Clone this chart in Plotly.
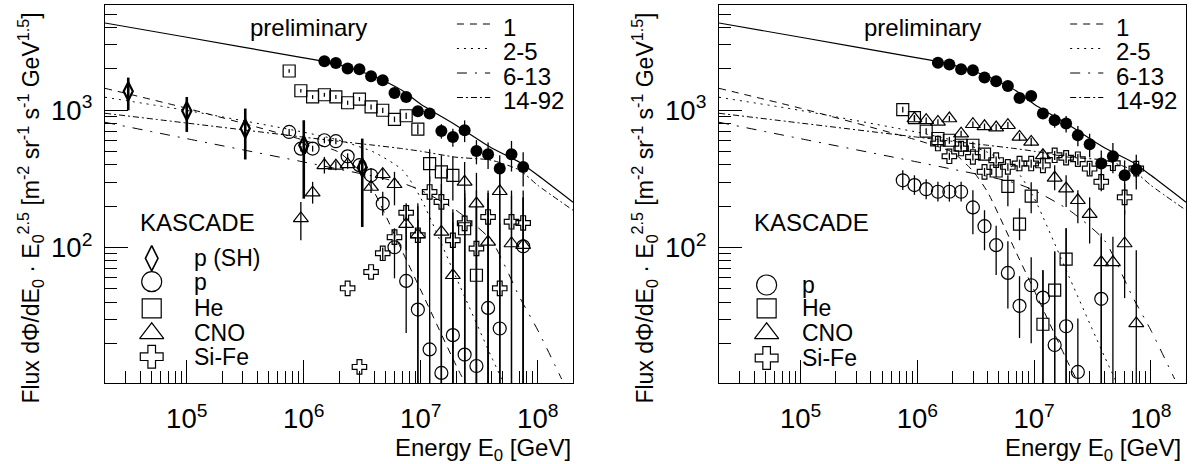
import plotly.graph_objects as go

FONT = "Liberation Sans, Arial, Helvetica, sans-serif"

# ---------------- model curves (same in both panels) ----------------
curve_E = [2e4, 1e5, 1e6, 2e6, 4e6, 7e6, 1e7, 2e7, 4e7, 7e7, 1e8, 2e8]
sum_F = [4325, 3404, 2409, 2143, 1769, 1387, 1106, 778, 533, 418, 336, 214]
z1_E = [2e4, 1e5, 1e6, 2e6, 3e6, 4e6, 7e6, 1e7, 2e7, 2.6e7]
z1_F = [1445, 1034, 605, 494, 360, 253, 92.5, 48.9, 13.9, 9]
z2_E = [2e4, 1e5, 1e6, 2e6, 4e6, 7e6, 1e7, 2e7, 4e7, 5.2e7]
z2_F = [1244, 997, 692, 605, 494, 366, 229, 60.8, 16.1, 10]
z6_E = [2e4, 1e5, 1e6, 2e6, 4e6, 7e6, 1e7, 2e7, 4e7, 7e7, 1e8, 1.6e8]
z6_F = [818, 621, 420, 372, 330, 294, 261, 187, 113, 43.4, 25, 11]
z14_E = [2e4, 1e5, 1e6, 2e6, 4e6, 7e6, 1e7, 2e7, 4e7, 7e7, 1e8, 2e8]
z14_F = [951, 807, 637, 594, 556, 525, 503, 455, 433, 366, 284, 187]

# ---------------- left panel data ----------------
L_all_E = [1.50e6, 1.88e6, 2.37e6, 2.99e6, 3.76e6, 4.73e6, 5.96e6, 7.50e6, 9.44e6,
           1.19e7, 1.50e7, 1.88e7, 2.37e7, 2.99e7, 3.76e7, 4.73e7, 5.96e7, 7.50e7]
L_all_F = [2275, 2210, 2013, 1990, 1769, 1655, 1337, 1250, 984, 946, 707, 639, 715, 505, 478, 376, 478, 386]
L_all_err = [45, 44, 40, 40, 35, 33, 27, 50, 59, 76, 85, 96, 129, 101, 105, 94, 120, 108]

L_sh_E = [3.16e4, 1e5, 3.16e5, 1e6, 3.16e6]
L_sh_F = [1375, 988, 736, 556, 383]
L_sh_hi = [1730, 1250, 1029, 846, 622]
L_sh_lo = [1000, 695, 438, 227, 141]

L_p_E = [7.50e5, 9.44e5, 1.19e6, 1.50e6, 1.88e6, 2.37e6, 2.99e6, 3.76e6, 4.73e6, 5.96e6,
         7.50e6, 9.44e6, 1.19e7, 1.50e7, 1.88e7, 2.37e7, 2.99e7, 3.76e7, 4.73e7, 7.50e7]
L_p_F = [695, 525, 526, 605, 595, 462, 398, 336, 209, 100.5, 57.1, 35.3, 18.1, 12.2, 23.0, 16.6, 13.7, 36.3, 25.7, 102]
L_p_hi = [730, 550, 552, 635, 625, 485, 430, 380, 255, 138, 150, 210, 33.8, 261, 153, 261, 261, 229, 261, 232]
L_p_lo = [660, 500, 500, 575, 565, 440, 366, 295, 171, 59.7, 23.8, 5, 5, 5, 5, 5, 5, 5, 5, 5]

L_he_E = [7.50e5, 9.44e5, 1.19e6, 1.50e6, 1.88e6, 2.37e6, 2.99e6, 3.76e6, 4.73e6, 5.96e6,
          7.50e6, 9.44e6, 1.19e7, 1.50e7, 1.88e7, 2.37e7, 2.99e7]
L_he_F = [1932, 1387, 1250, 1297, 1250, 1135, 1207, 1057, 1000, 859, 912, 729, 409, 356, 336, 137, 62.8]
L_he_hi = [1990, 1430, 1290, 1340, 1290, 1175, 1250, 1100, 1045, 900, 960, 790, 520, 470, 460, 250, 200]
L_he_lo = [1875, 1345, 1210, 1255, 1210, 1095, 1165, 1015, 955, 820, 865, 670, 300, 240, 220, 5, 5]

L_cno_E = [9.44e5, 1.19e6, 1.50e6, 1.88e6, 2.37e6, 3.76e6, 4.73e6, 5.96e6, 7.50e6, 9.44e6,
           1.50e7, 1.88e7, 2.37e7, 2.99e7, 3.76e7, 4.73e7, 5.96e7, 7.50e7]
L_cno_F = [163, 251, 397, 394, 404, 276, 342, 289, 148, 124, 130, 62.8, 301, 209, 110, 257, 107, 104]
L_cno_hi = [215, 301, 457, 425, 435, 305, 375, 356, 210, 200, 230, 180, 420, 350, 250, 420, 260, 260]
L_cno_lo = [113, 209, 346, 365, 375, 250, 310, 203, 95.6, 60, 5, 5, 5, 5, 5, 5, 5, 5]

L_fe_E = [2.37e6, 2.99e6, 3.76e6, 4.73e6, 5.96e6, 7.50e6, 9.44e6, 1.19e7, 1.50e7, 1.88e7,
          2.37e7, 2.99e7, 3.76e7, 4.73e7, 5.96e7, 7.50e7]
L_fe_F = [50.4, 13.5, 66.4, 90.8, 119, 179, 123, 254, 215, 113, 150, 98.4, 167, 50.4, 154, 151]
L_fe_hi = [50.4, 13.5, 66.4, 100, 135, 200, 160, 330, 290, 190, 230, 200, 260, 150, 240, 230]
L_fe_lo = [50.4, 13.5, 66.4, 80, 100, 155, 5, 5, 5, 5, 5, 5, 5, 5, 5, 5]

# ---------------- right panel data ----------------
R_all_E = L_all_E
R_all_F = [2223, 2153, 1990, 1955, 1730, 1627, 1503, 1229, 1271, 946, 846, 800, 658, 565, 409, 462, 336, 370]
R_all_err = [44, 43, 40, 39, 35, 33, 30, 49, 76, 76, 100, 110, 110, 110, 100, 115, 95, 105]

R_p_E = [7.50e5, 9.44e5, 1.19e6, 1.50e6, 1.88e6, 2.37e6, 2.99e6, 3.76e6, 4.73e6, 5.96e6,
         7.50e6, 9.44e6, 1.19e7, 1.50e7, 1.88e7, 2.37e7, 3.76e7]
R_p_F = [309, 285, 266, 255, 255, 255, 196, 143, 104, 65.3, 37.6, 53.1, 43.2, 19.5, 26.7, 12.4, 42.3]
R_p_hi = [365, 336, 314, 301, 301, 301, 261, 187, 144, 111, 61.8, 85, 68.3, 93.5, 138, 30.4, 127]
R_p_lo = [262, 242, 225, 216, 216, 216, 125, 95.6, 63, 36, 21.9, 20.1, 5, 5, 5, 5, 5]

R_he_E = [7.50e5, 9.44e5, 1.19e6, 1.50e6, 1.88e6, 2.37e6, 2.99e6, 3.76e6, 4.73e6, 5.96e6,
          7.50e6, 9.44e6, 1.19e7, 1.50e7, 1.88e7]
R_he_F = [1012, 885, 706, 623, 605, 556, 556, 479, 361, 279, 148, 237, 27.6, 48.9, 82.2]
R_he_hi = [1060, 925, 740, 655, 640, 590, 590, 520, 400, 336, 193, 299, 68.3, 93.5, 138]
R_he_lo = [965, 845, 672, 590, 570, 525, 525, 440, 325, 200, 113, 178, 5, 5, 5]

R_cno_E = [9.44e5, 1.19e6, 1.50e6, 1.88e6, 2.37e6, 2.99e6, 3.76e6, 4.73e6, 5.96e6, 7.50e6,
           9.44e6, 1.19e7, 1.50e7, 1.88e7, 2.37e7, 2.99e7, 3.76e7, 4.73e7, 5.96e7, 7.50e7]
R_cno_F = [871, 846, 822, 871, 676, 791, 764, 748, 778, 640, 588, 470, 322, 269, 221, 175, 78, 78, 107, 28.0]
R_cno_hi = [910, 885, 860, 910, 710, 830, 800, 790, 820, 680, 630, 520, 398, 336, 261, 232, 120, 120, 187, 95.6]
R_cno_lo = [832, 808, 785, 832, 645, 755, 730, 710, 740, 600, 550, 425, 261, 197, 150, 107, 5, 5, 42.8, 5]

R_fe_E = [1.50e6, 1.88e6, 2.37e6, 2.99e6, 3.76e6, 4.73e6, 5.96e6, 7.50e6, 9.44e6,
          1.19e7, 1.50e7, 1.88e7, 2.37e7, 2.99e7, 3.76e7, 4.73e7, 5.96e7, 7.50e7]
R_fe_F = [572, 462, 526, 457, 356, 433, 387, 409, 409, 397, 470, 451, 440, 376, 301, 411, 232, 376]
R_fe_hi = [600, 490, 555, 485, 380, 460, 412, 437, 437, 425, 505, 490, 480, 415, 345, 460, 290, 430]
R_fe_lo = [545, 435, 497, 430, 332, 407, 362, 381, 381, 370, 435, 412, 400, 337, 257, 362, 174, 322]

# ---------------- labels ----------------
curve_labels = ["1", "2-5", "6-13", "14-92"]
left_legend = ["p (SH)", "p", "He", "CNO", "Si-Fe"]
right_legend = ["p", "He", "CNO", "Si-Fe"]

DASH = {"1": "7px,6px", "2-5": "2px,5px", "6-13": "10px,8px,2px,8px", "14-92": "6px,3px,2px,3px"}

fig = go.Figure()


def add_curves(xa, ya):
    for E, F, lab in [(z1_E, z1_F, "1"), (z2_E, z2_F, "2-5"), (z6_E, z6_F, "6-13"), (z14_E, z14_F, "14-92")]:
        fig.add_trace(go.Scatter(x=E, y=F, mode="lines", xaxis=xa, yaxis=ya,
                                 line=dict(color="black", width=1, dash=DASH[lab], shape="spline", smoothing=0.6),
                                 showlegend=False, hoverinfo="skip"))
    fig.add_trace(go.Scatter(x=curve_E, y=sum_F, mode="lines", xaxis=xa, yaxis=ya,
                             line=dict(color="black", width=1.2, shape="spline", smoothing=0.6),
                             showlegend=False, hoverinfo="skip"))


def add_points(xa, ya, E, F, hi, lo, symbol, size, lw=1.2, ethick=1.3):
    plus = [h - f for h, f in zip(hi, F)]
    minus = [f - l for f, l in zip(F, lo)]
    fig.add_trace(go.Scatter(x=E, y=F, mode="markers", xaxis=xa, yaxis=ya,
                             marker=dict(symbol=symbol, size=size, color="black",
                                         line=dict(color="black", width=lw)),
                             error_y=dict(type="data", symmetric=False, array=plus, arrayminus=minus,
                                          thickness=ethick, width=0, color="black"),
                             showlegend=False))


def add_all(xa, ya, E, F, err):
    fig.add_trace(go.Scatter(x=E, y=F, mode="markers", xaxis=xa, yaxis=ya,
                             marker=dict(symbol="circle", size=12, color="black"),
                             error_y=dict(type="data", array=err, thickness=1.3, width=0, color="black"),
                             showlegend=False))


# left panel
add_curves("x", "y")
add_points("x", "y", L_sh_E, L_sh_F, L_sh_hi, L_sh_lo, "diamond-tall-open", 13, lw=2.2, ethick=2.6)
add_points("x", "y", L_p_E, L_p_F, L_p_hi, L_p_lo, "circle-open", 13)
add_points("x", "y", L_he_E, L_he_F, L_he_hi, L_he_lo, "square-open", 12)
add_points("x", "y", L_cno_E, L_cno_F, L_cno_hi, L_cno_lo, "triangle-up-open", 13)
add_points("x", "y", L_fe_E, L_fe_F, L_fe_hi, L_fe_lo, "cross-open", 12)
add_all("x", "y", L_all_E, L_all_F, L_all_err)

# right panel
add_curves("x2", "y2")
add_points("x2", "y2", R_p_E, R_p_F, R_p_hi, R_p_lo, "circle-open", 13)
add_points("x2", "y2", R_he_E, R_he_F, R_he_hi, R_he_lo, "square-open", 12)
add_points("x2", "y2", R_cno_E, R_cno_F, R_cno_hi, R_cno_lo, "triangle-up-open", 13)
add_points("x2", "y2", R_fe_E, R_fe_F, R_fe_hi, R_fe_lo, "cross-open", 12)
add_all("x2", "y2", R_all_E, R_all_F, R_all_err)

# ---------------- in-panel legends (panel fraction coordinates) ----------------
line_rows = [0.9497, 0.8849, 0.8201, 0.7553]
annotations = []
for xa, ya, dom in [("x3", "y3", "x"), ("x4", "y4", "x2")]:
    ydom = dom.replace("x", "y") + " domain"
    for lab, yr in zip(curve_labels, line_rows):
        fig.add_trace(go.Scatter(x=[0.752, 0.823], y=[yr, yr], mode="lines", xaxis=xa, yaxis=ya,
                                 line=dict(color="black", width=1, dash=DASH[lab]),
                                 showlegend=False, hoverinfo="skip"))
        annotations.append(dict(text=lab, x=0.846, y=yr - 0.008, xref=dom + " domain", yref=ydom,
                                xanchor="left", yanchor="middle", showarrow=False,
                                font=dict(family=FONT, size=24, color="black")))
    annotations.append(dict(text="preliminary", x=0.435, y=0.9417, xref=dom + " domain",
                            yref=ydom, xanchor="center", yanchor="middle",
                            showarrow=False, font=dict(family=FONT, size=24, color="black")))
    annotations.append(dict(text="KASCADE", x=0.0705, y=0.4233, xref=dom + " domain",
                            yref=ydom, xanchor="left", yanchor="middle",
                            showarrow=False, font=dict(family=FONT, size=24, color="black")))

# marker legend glyphs
left_syms = [("diamond-tall-open", 18, 1.6), ("circle-open", 20, 1.2), ("square-open", 19, 1.2),
             ("triangle-up-open", 21, 1.2), ("cross-open", 19, 1.2)]
left_rows = [0.3299, 0.2680, 0.1976, 0.1315, 0.0696]
for (sym, sz, lw), yr, lab in zip(left_syms, left_rows, left_legend):
    fig.add_trace(go.Scatter(x=[0.0998], y=[yr], mode="markers", xaxis="x3", yaxis="y3",
                             marker=dict(symbol=sym, size=sz, color="black", line=dict(color="black", width=lw)),
                             showlegend=False, hoverinfo="skip"))
    annotations.append(dict(text=lab, x=0.1853, y=yr, xref="x domain", yref="y domain",
                            xanchor="left", yanchor="middle", showarrow=False,
                            font=dict(family=FONT, size=23, color="black")))
right_syms = left_syms[1:]
right_rows = [0.2593, 0.1976, 0.1315, 0.0661]
for (sym, sz, lw), yr, lab in zip(right_syms, right_rows, right_legend):
    fig.add_trace(go.Scatter(x=[0.102], y=[yr], mode="markers", xaxis="x4", yaxis="y4",
                             marker=dict(symbol=sym, size=sz, color="black", line=dict(color="black", width=lw)),
                             showlegend=False, hoverinfo="skip"))
    annotations.append(dict(text=lab, x=0.1734, y=yr, xref="x2 domain", yref="y2 domain",
                            xanchor="left", yanchor="middle", showarrow=False,
                            font=dict(family=FONT, size=23, color="black")))

# axis titles
xtitle = "Energy E<sub>0</sub> [GeV]"
ytitle = ("Flux d\u03a6/dE<sub>0</sub> \u00b7 E<sub>0</sub><sup>2.5</sup> "
          "[m<sup>-2</sup> sr<sup>-1</sup> s<sup>-1</sup> GeV<sup>1.5</sup>]")
for xr_, yt_x in [(0.4325, -0.0694), (0.9972, 0.4986)]:
    annotations.append(dict(text=xtitle, x=xr_, y=-0.176, xref="paper", yref="paper",
                            xanchor="right", yanchor="middle", showarrow=False,
                            font=dict(family=FONT, size=24, color="black")))
    annotations.append(dict(text=ytitle, x=yt_x, y=0.464, xref="paper", yref="paper",
                            xanchor="center", yanchor="middle", textangle=-90, showarrow=False,
                            font=dict(family=FONT, size=23, color="black")))

axis_common = dict(type="log", showline=True, linecolor="black", linewidth=1.2, mirror=True,
                   ticks="inside", ticklen=23, tickwidth=1, tickcolor="black", showgrid=False,
                   zeroline=False, exponentformat="power",
                   tickfont=dict(family=FONT, size=22, color="black"),
                   minor=dict(ticks="inside", ticklen=12, tickwidth=1, tickcolor="black",
                              dtick="D1", showgrid=False))
xr = [4.301, 8.301]
yr_ = [1.013, 3.767]
dom_l = [0, 468 / 1081]
dom_r = [614 / 1081, 1]

fig.update_layout(
    width=1194, height=464,
    margin=dict(l=105, r=8, t=5, b=81),
    paper_bgcolor="white", plot_bgcolor="rgba(0,0,0,0)",
    showlegend=False,
    font=dict(family=FONT, size=22, color="black"),
    xaxis=dict(axis_common, domain=dom_l, range=xr, anchor="y", dtick=1, ticklabelstandoff=12),
    yaxis=dict(axis_common, domain=[0, 1], range=yr_, anchor="x", dtick=1, ticklabelstandoff=7),
    xaxis2=dict(axis_common, domain=dom_r, range=xr, anchor="y2", dtick=1, ticklabelstandoff=12),
    yaxis2=dict(axis_common, domain=[0, 1], range=yr_, anchor="x2", dtick=1, ticklabelstandoff=7),
    xaxis3=dict(domain=dom_l, range=[0, 1], anchor="y3", visible=False),
    yaxis3=dict(domain=[0, 1], range=[0, 1], anchor="x3", visible=False),
    xaxis4=dict(domain=dom_r, range=[0, 1], anchor="y4", visible=False),
    yaxis4=dict(domain=[0, 1], range=[0, 1], anchor="x4", visible=False),
    annotations=annotations,
)

fig.write_html("out.html", config={"displayModeBar": False, "staticPlot": True},
               post_script="document.body.style.margin='0px';document.body.style.padding='0px';")
